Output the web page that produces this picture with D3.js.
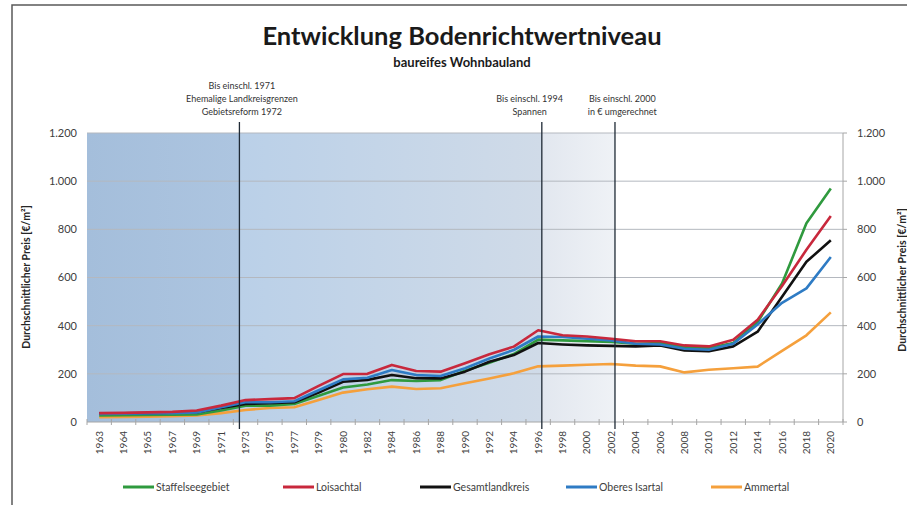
<!DOCTYPE html>
<html>
<head>
<meta charset="utf-8">
<script src="https://cdn.jsdelivr.net/npm/d3@7"></script>
<style>
  body { margin: 0; background: #fff; }
  svg { display: block; font-family: Lato, "Liberation Sans", sans-serif; }
</style>
</head>
<body>
<svg id="chart"></svg>
<script>
const width = 907;
const height = 505;
const plot = {left: 87, right: 843, top: 133, bottom: 422};

// Categories (x axis)
const years = ['1963', '1964', '1965', '1967', '1969', '1971', '1973', '1975', '1977', '1979',
    '1980', '1982', '1984', '1986', '1988', '1990', '1992', '1994', '1996', '1998', '2000',
    '2002', '2004', '2006', '2008', '2010', '2012', '2014', '2016', '2018', '2020'];

// Series values (€/m²)
const staffelsee = [27, 28, 29, 30, 31, 48, 68, 68, 75, 109, 143, 156, 174, 170, 174, 213,
    246, 282, 342, 339, 336, 332, 325, 328, 311, 307, 328, 415, 575, 825, 970];
const loisachtal = [37, 38, 40, 42, 48, 68, 91, 95, 99, 150, 199, 200, 237, 212, 209, 244,
    281, 313, 381, 360, 355, 346, 335, 335, 318, 314, 342, 425, 565, 715, 855];
const gesamt = [35, 36, 37, 39, 41, 58, 75, 78, 82, 122, 167, 175, 195, 182, 181, 209,
    250, 278, 328, 322, 318, 316, 314, 318, 297, 294, 314, 375, 520, 665, 755];
const isartal = [33, 34, 35, 37, 40, 61, 82, 82, 86, 132, 177, 184, 216, 195, 191, 223,
    264, 299, 355, 353, 346, 339, 325, 322, 304, 300, 325, 405, 495, 555, 685];
const ammertal = [20, 21, 22, 24, 27, 37, 50, 58, 61, 91, 122, 136, 147, 137, 140, 161,
    181, 202, 231, 234, 238, 241, 234, 231, 206, 217, 223, 230, 295, 360, 455];

const series = [
    {name: 'Staffelseegebiet', values: staffelsee, color: '#2f9a3e'},
    {name: 'Loisachtal', values: loisachtal, color: '#c8283c'},
    {name: 'Gesamtlandkreis', values: gesamt, color: '#111111'},
    {name: 'Oberes Isartal', values: isartal, color: '#2e7bc4'},
    {name: 'Ammertal', values: ammertal, color: '#f5a03c'}
];
// draw order (first at bottom)
const drawOrder = ['Ammertal', 'Staffelseegebiet', 'Gesamtlandkreis', 'Oberes Isartal', 'Loisachtal'];

const yTicks = [0, 200, 400, 600, 800, 1000, 1200];

// Marker lines: year + shift in category steps, label block offset in steps
const markers = [
    {year: '1973', shift: -0.25, labelShift: 0.1,
        lines: ['Bis einschl. 1971', 'Ehemalige Landkreisgrenzen', 'Gebietsreform 1972']},
    {year: '1996', shift: 0.15, labelShift: -0.5, lines: ['Bis einschl. 1994', 'Spannen']},
    {year: '2002', shift: 0.15, labelShift: 0.3, lines: ['Bis einschl. 2000', 'in € umgerechnet']}
];

const svg = d3.select('#chart').attr('width', width).attr('height', height);

const x = d3.scalePoint().domain(years).range([plot.left, plot.right]).padding(0.5);
const step = x.step();
const y = d3.scaleLinear().domain([0, 1200]).range([plot.bottom, plot.top]);

const markerX = markers.map(m => x(m.year) + m.shift * step);

// Background gradients
const defs = svg.append('defs');
function grad(id, c0, c1) {
    const gr = defs.append('linearGradient').attr('id', id);
    gr.append('stop').attr('offset', '0%').attr('stop-color', c0);
    gr.append('stop').attr('offset', '100%').attr('stop-color', c1);
}
grad('g1', '#a4bedb', '#adc5e0');
grad('g2', '#bad0e8', '#d0dbe8');
grad('g3', '#e2e7ef', '#eff2f6');

const bands = [
    {x0: plot.left, x1: markerX[0], fill: 'url(#g1)'},
    {x0: markerX[0], x1: markerX[1], fill: 'url(#g2)'},
    {x0: markerX[1], x1: markerX[2], fill: 'url(#g3)'}
];
svg.append('g').selectAll('rect')
    .data(bands)
    .join('rect')
    .attr('x', d => d.x0)
    .attr('y', y(1200))
    .attr('width', d => d.x1 - d.x0)
    .attr('height', y(0) - y(1200))
    .attr('fill', d => d.fill);

// Gridlines
svg.append('g').selectAll('line')
    .data(yTicks.filter(t => t > 0))
    .join('line')
    .attr('x1', plot.left)
    .attr('x2', plot.right)
    .attr('y1', d => y(d))
    .attr('y2', d => y(d))
    .attr('stroke', '#b4b8bf')
    .attr('stroke-width', 1);

// X axis line and ticks at category boundaries
svg.append('line')
    .attr('x1', plot.left).attr('x2', plot.right)
    .attr('y1', y(0)).attr('y2', y(0))
    .attr('stroke', '#a6a6a6');
const boundaries = years.map(d => x(d) - step / 2).concat([x(years[years.length - 1]) + step / 2]);
svg.append('g').selectAll('line')
    .data(boundaries)
    .join('line')
    .attr('x1', d => d).attr('x2', d => d)
    .attr('y1', y(0) - 3).attr('y2', y(0) + 3)
    .attr('stroke', '#a6a6a6');

// Right axis line with ticks
svg.append('line')
    .attr('x1', plot.right).attr('x2', plot.right)
    .attr('y1', y(1200)).attr('y2', y(0))
    .attr('stroke', '#a6a6a6');
svg.append('g').selectAll('line')
    .data(yTicks)
    .join('line')
    .attr('x1', plot.right).attr('x2', plot.right + 4)
    .attr('y1', d => y(d)).attr('y2', d => y(d))
    .attr('stroke', '#a6a6a6');

// Tick labels
const fmt = d => d3.format(',')(d).replace(/,/g, '.');
svg.append('g').selectAll('text')
    .data(yTicks)
    .join('text')
    .attr('x', 77)
    .attr('y', d => y(d))
    .attr('dy', '0.35em')
    .attr('text-anchor', 'end')
    .attr('font-size', 11)
    .attr('fill', '#404040')
    .text(fmt);
svg.append('g').selectAll('text')
    .data(yTicks)
    .join('text')
    .attr('x', 857)
    .attr('y', d => y(d))
    .attr('dy', '0.35em')
    .attr('font-size', 11)
    .attr('fill', '#404040')
    .text(fmt);

svg.append('g').selectAll('text')
    .data(years)
    .join('text')
    .attr('transform', d => `translate(${x(d)},${y(0) + 9}) rotate(-90)`)
    .attr('text-anchor', 'end')
    .attr('dy', '0.35em')
    .attr('font-size', 10)
    .attr('fill', '#404040')
    .text(d => d);

// Y axis titles
const yTitle = 'Durchschnittlicher Preis [€/m²]';
svg.append('text')
    .attr('transform', `translate(30,277) rotate(-90)`)
    .attr('text-anchor', 'middle')
    .attr('font-size', 10.5)
    .attr('font-weight', 'bold')
    .attr('fill', '#262626')
    .text(yTitle);
svg.append('text')
    .attr('transform', `translate(906,280) rotate(-90)`)
    .attr('text-anchor', 'middle')
    .attr('font-size', 10.5)
    .attr('font-weight', 'bold')
    .attr('fill', '#262626')
    .text(yTitle);

// Series lines
const line = d3.line()
    .x((d, i) => x(years[i]))
    .y(d => y(d));
const ordered = drawOrder.map(n => series.find(s => s.name === n));
svg.append('g').selectAll('path')
    .data(ordered)
    .join('path')
    .attr('d', d => line(d.values))
    .attr('fill', 'none')
    .attr('stroke', d => d.color)
    .attr('stroke-width', 2.6)
    .attr('stroke-linejoin', 'round');

// Marker lines and labels
svg.append('g').selectAll('line')
    .data(markerX)
    .join('line')
    .attr('x1', d => d).attr('x2', d => d)
    .attr('y1', 122).attr('y2', y(0) + 7)
    .attr('stroke', '#1f2a36')
    .attr('stroke-width', 1.3);

markers.forEach((m, i) => {
    const cx = markerX[i] + m.labelShift * step;
    const n = m.lines.length;
    svg.append('g').selectAll('text')
        .data(m.lines)
        .join('text')
        .attr('x', cx)
        .attr('y', (d, j) => 115 - (n - 1 - j) * 13)
        .attr('text-anchor', 'middle')
        .attr('font-size', 9)
        .attr('fill', '#333')
        .text(d => d);
});

// Title
svg.append('text')
    .attr('x', 462).attr('y', 45)
    .attr('text-anchor', 'middle')
    .attr('font-size', 25.5)
    .attr('font-weight', 'bold')
    .attr('fill', '#1a1a1a')
    .text('Entwicklung Bodenrichtwertniveau');
svg.append('text')
    .attr('x', 462).attr('y', 67)
    .attr('text-anchor', 'middle')
    .attr('font-size', 13)
    .attr('font-weight', 'bold')
    .attr('fill', '#1a1a1a')
    .text('baureifes Wohnbauland');

// Legend
const legendX = [123, 283, 420, 566, 711];
const legend = svg.append('g').selectAll('g')
    .data(series)
    .join('g')
    .attr('transform', (d, i) => `translate(${legendX[i]},487)`);
legend.append('line')
    .attr('x1', 0).attr('x2', 31)
    .attr('stroke', d => d.color)
    .attr('stroke-width', 3);
legend.append('text')
    .attr('x', 33)
    .attr('dy', '0.35em')
    .attr('font-size', 10.5)
    .attr('fill', '#404040')
    .text(d => d.name);

// Outer frame
svg.append('path')
    .attr('d', `M12,${height}V5H${width}`)
    .attr('fill', 'none')
    .attr('stroke', '#595959')
    .attr('stroke-width', 1.5);
</script>
</body>
</html>
